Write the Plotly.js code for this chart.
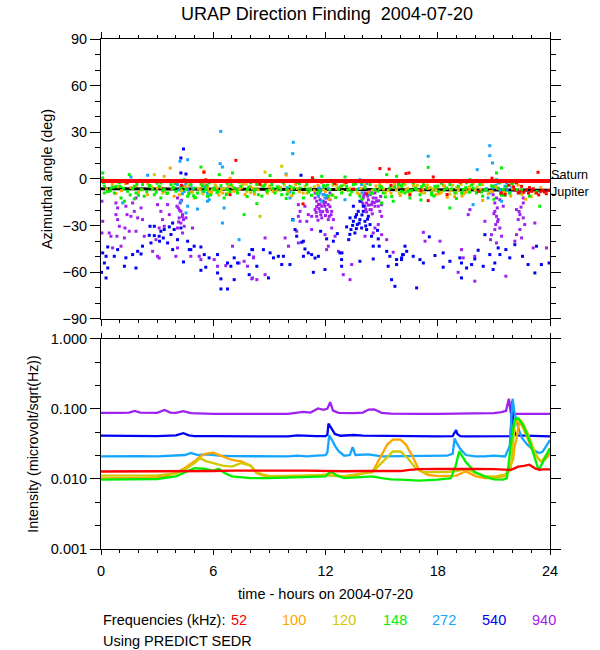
<!DOCTYPE html>
<html>
<head>
<meta charset="utf-8">
<script src="https://cdn.plot.ly/plotly-3.0.1.min.js"></script>
<style>html,body{margin:0;padding:0;background:#fff;}#chart{width:600px;height:650px;}</style>
</head>
<body>
<div id="chart"></div>
<script>
// ---------------- DATA ----------------
var freqLabels = ['52','100','120','148','272','540','940'];
var colors = {'52':'#ff0000','100':'#ffa500','120':'#d2c800','148':'#00f000','272':'#14a5ff','540':'#0000f5','940':'#a020f0'};

// Saturn / Jupiter directions (deg)
var refT = [0, 24];
var saturnAz = [-1.3, -1.3];
var jupiterAz = [-6.2, -7.2];

// Azimuth scatter, 540 kHz
var t540 = [4.41,4.27,4.27,4.54,3.83,3.65,3.91,3.38,3.2,4.27,2.85,2.62,2.58,2.85,3.11,3.33,3.74,4.09,3.56,3.13,2.67,2.22,3.83,4.63,4.72,4.98,5.34,1.96,2.14,1.69,0.89,0.36,0.09,0.27,0.71,1.33,1.87,1.25,0.36,0.18,0.27,4.41,4.8,5.52,5.78,6.23,5.34,5.6,7.12,7.3,7.92,8.1,6.76,6.94,7.92,6.41,6.41,6.76,7.12,6.23,
 10.69,10.25,10.37,10.46,10.73,10.9,11.08,11.26,11.35,10.82,11.62,11.74,12.06,12.42,12.63,12.86,12.88,13.24,13.36,13.31,13.49,13.66,13.84,14.02,14.11,13.7,13.13,13.57,13.93,14.2,14.38,14.29,14.02,13.75,13.84,13.49,14.46,14.78,14.82,14.55,14.87,15.27,15.44,15.35,15.8,16.06,15.53,16.12,14.55,11.44,10.82,8.06,8.68,9.04,9.48,9.22,9.75,8.33,8.95,9.66,10.1,12.77,11.97,12.86,13.84,15.71,15.8,
 16.16,16.34,16.69,17.05,17.23,17.55,18.29,17.85,18.65,19.27,19.18,19.54,19.98,20.16,20.43,20.52,20.78,21.05,21.23,21.32,21.64,21.85,22.12,22.53,22.83,23.28,23.54,23.19,23.95,19.27,18.29,16.87,16.25,16.07,19.81,20.96,0.03,
 13.45,13.6,13.95,14.15,13.8,13.3,14.25,13.65];
var az540 = [19.3,13.5,3.9,3.2,-28.3,-30.8,-32.5,-32.5,-33.6,-31.5,-30.4,-30.4,-36.2,-36.4,-36.8,-37.9,-35.7,-39,-41.1,-40,-41.1,-43.2,-45.4,-40,-45.4,-43.2,-43.7,-46.5,-48.2,-48.6,-45.4,-43.7,-47.5,-49.7,-49.7,-50.7,-57.2,-56.1,-57.2,-54,-63.6,-53.3,-45.4,-48.6,-50.7,-48.6,-58.7,-56.7,-50.7,-54,-48.6,-45.4,-54,-56.1,-61.5,-64.2,-70.7,-70.7,-64.7,-60.4,
 2.4,-26.1,-32.5,-36.8,-40.7,-45,-47.5,-48.6,-60,-49.7,-49.7,-33.6,-38.5,-40,-35.1,-51.8,-47.5,-39,-32.5,-25,-27.2,-22.9,-26.1,-20.8,-27.2,-29.3,-30.8,-34.7,-31.5,-32.5,-29.3,-24,-17.5,-20.8,-14.3,-17.5,-36.8,-33,-38.5,-43.2,-43.2,-46.5,-49.7,-56.1,-55,-51.8,-64.7,-48.6,-51.4,-50.8,-40,-45.4,-45.4,-47.5,-49.7,-50.7,-49.7,-56.1,-63.6,-55,-55,-47.5,-58.2,-56.1,-52.9,-69,-51.8,
 -48.6,-46.5,-49.7,-51.8,-54,-37.2,-47.5,-49.2,-52.9,-54,-50.7,-57.2,-51.4,-45.8,-56.1,-35.8,-48.6,-54,-44.3,-48.6,-45.4,-50.7,-42.2,-49.7,-55,-43.2,-55,-60.4,-54,-63.6,-56.7,-70,-43.2,-50.7,-55,-58.2,-60,
 -29.8,-24.5,-23.1,-30.2,-28.4,-35.6,-25.8,-31.9];

// Azimuth scatter, 940 kHz
var t940 = [0.05,0.09,0.05,0.8,0.89,0.8,0.89,0.98,0.85,1.07,0.53,0.62,1.33,1.39,1.6,1.78,1.69,1.87,1.96,2.22,2.14,1.28,1.51,1.25,1.87,2.31,3.02,3.2,3.29,3.38,3.11,3.56,3.65,2.94,3.02,4.09,4.23,4.13,4.27,4.36,4.18,4.41,4.27,4.45,4.09,4.06,4.31,4.54,4.89,4.36,4.09,4,4.8,5.25,5.34,6.05,6.23,6.67,7.03,7.38,7.65,7.83,8.15,8.1,3.11,2.76,0.44,
 8.77,9.84,8.15,8.06,8.33,8.77,10.55,10.64,10.55,10.64,10.9,11,11.08,11.26,11.26,10.46,10.55,11.44,11.53,11.71,11.88,12.06,12.24,11.62,11.8,11.97,12.15,11.44,11.71,12.06,12.33,11.53,11.8,12.15,12.42,11.44,11.88,12.24,11.62,11.92,11.53,12.24,12.33,11.97,12.51,12.15,12.69,14.11,14.38,14.64,14.02,14.29,14.55,14.73,14.2,14.46,14.11,14.64,14.82,14.38,15,13.93,14.91,14.5,14.25,15,14.82,14.64,14.55,14.11,15,15.27,15.62,13.4,12.95,13.31,10.02,12.06,
 19.72,19.63,20.52,20.96,21.14,21.05,21.18,21.05,21.14,21.23,21.1,21.32,21.05,20.87,20.82,21.14,21.41,21.32,21.5,22.21,22.39,22.3,22.57,22.65,22.39,22.21,22.48,22.12,22.57,22.57,23.19,23.1,23.81,19.27,19.36,19.98,19.09,18.12,17.32,17.23,19.98,21.64,
 11.5,11.65,11.75,11.85,12.0,12.1,12.2,12.3,12.0,12.12,11.7,11.6,14.0,14.15,14.3,14.45,14.6,14.7,14.85,14.95,14.2,14.5,14.35,14.05,4.2,4.35,4.15,21.0,21.2,22.45,22.35];
var az940 = [-14.3,-27.2,-34.7,-15.4,-18.6,-22.9,-26.1,-30.4,-36.8,-43.2,-36.8,-44.3,-17.5,-22.9,-24,-20.8,-15.4,-12.2,-25,-26.1,-18.6,-31.5,-33.6,-37.9,-33.6,-36.8,-16.5,-20.8,-26.1,-30.4,-31.5,-16.5,-22.9,-39,-49.7,-12.2,-15.4,-18.6,-20.8,-22.9,-25,-26.1,-28.3,-30.4,-31.5,-17.5,-13.7,-25,-31.5,-34.7,-44.3,-49.7,-49.7,-49.7,-51.8,-51.8,-56.1,-55.7,-43.2,-54,-52.9,-56.1,-50.1,-63.6,-50.8,-46.5,-34.7,
 -37.9,-37.9,-50.7,-64.2,-64.7,-61.5,-16.5,-20.8,-24,-27.2,-17.5,-27.2,-22.9,-24,-32.5,-33.6,-41.1,-12.2,-14.3,-13.3,-14.3,-12.2,-13.3,-16.5,-17.5,-17.5,-16.5,-19.7,-20.8,-19.7,-20.8,-24,-25,-26.1,-26.1,-9,-10.1,-9,-11,-15.8,-17.8,-17.8,-31.5,-35.8,-36.8,-43.2,-46.5,-9,-10.1,-9,-12.2,-13.3,-12.2,-14.3,-15.4,-16.5,-17.5,-17.5,-17.5,-19.7,-16.5,-14.3,-20.8,-14.8,-11,-24,-29.3,-31.5,-34.7,-36.8,-35.8,-39,-47.1,-55,-61.5,-64.7,-43.2,-45.4,
 -19.7,-22.9,-27.2,-10.1,-12.2,-15.4,-18.6,-20.8,-24,-26.1,-29.3,-31.5,-32.5,-35.8,-39,-41.1,-36.8,-13.3,-17.5,-19.7,-22.9,-26.1,-25,-29.3,-32.5,-35.8,-37.9,-40,-12.2,-15.4,-28.3,-44.3,-44.3,-45.4,-50.7,-49.7,-60,-40,-40,-34.3,-65.7,-62.5,
 -21.5,-19,-23,-21,-23.5,-21,-24,-23,-15,-12,-16.2,-26.5,-15.8,-19.5,-16.8,-19.8,-15.2,-12.3,-14,-11.2,-21.2,-22.4,-8.2,-10.5,-20.1,-24.2,-27.6,-22.3,-27.4,-18.1,-20.9];

// Azimuth scatter, 148 kHz
var t148 = [0.09,0.09,0.18,0.18,0.53,0.8,0.71,1.07,0.98,1.42,1.51,1.78,1.87,2.14,2.22,2.31,2.58,2.76,2.85,3.11,3.2,3.38,3.56,3.74,3.83,4,4.18,4.36,4.54,4.8,4.98,5.16,5.25,5.34,5.43,5.6,5.78,5.87,6.05,6.23,6.41,6.58,6.76,6.94,7.12,7.3,7.47,7.65,7.83,8.01,8.19,7.03,6.32,4.45,5.69,4.63,3.2,1.78,1.25,
 8.06,8.24,8.41,8.68,8.86,9.04,9.13,9.3,9.48,9.66,9.75,9.93,10.1,10.28,10.46,10.64,10.82,11,11.17,11.35,11.53,11.8,11.97,12.24,12.42,12.69,12.86,13.04,13.13,13.31,13.49,13.66,13.84,14.11,14.38,14.64,14.91,15.09,15.27,15.44,15.62,15.8,16.06,16.15,8.33,12.15,15,
 16.07,16.25,16.51,16.69,16.87,17.05,17.23,17.4,17.49,17.67,17.85,18.03,18.2,18.47,18.65,18.65,18.92,19.09,19.36,19.54,19.72,19.89,20.07,20.25,20.52,20.7,20.96,21.14,21.32,21.41,21.5,21.68,21.85,22.03,22.21,23.45,
 0.35,1.2,2.0,2.95,3.95,4.7,5.05,5.5,6.7,7.4,8.6,9.2,9.9,10.6,11.25,11.65,12.1,12.55,13.2,13.95,14.5,15.2,15.9,16.4,17.1,17.8,18.35,19.0,19.7,20.4,21.0,21.6,22.4,22.9,23.3,
 0.14,0.5,1.03,1.56,1.92,2.45,2.99,3.52,3.88,4.59,4.95,5.66,6.2,6.74,7.27,7.81,8.35,8.88,9.42,9.95,10.49,11.02,11.55,11.9,
 12.34,12.87,13.4,13.94,14.47,15.0,15.54,16.07,16.61,17.14,17.67,18.21,18.74,19.28,19.81,20.34,20.88,21.41,21.94,22.48,
 0.65,1.7,2.6,3.3,4.25,5.35,6.05,6.9,7.9,8.75,9.6,10.3,11.1,12.7,13.6,14.8,15.7,16.8,18.0,19.5,20.6,21.25];
var az148 = [3.9,0.7,-4.7,-9,-5.8,-4.7,-9,-12.2,-2.5,-7.9,2.8,-4.7,-9,-6.8,-3.6,-11.1,-4.7,-6.8,-10.1,-4.7,-2.5,-6.8,-9,-3.6,-5.8,-7.9,-1.5,-4.7,-6.8,-3.6,-5.8,-9,-1.5,7.7,-4.7,-6.8,-2.5,-10.1,-5.8,-7.9,-4.3,-12.2,-6.8,-3.6,-5.8,-9,-4.7,-22.9,-6.8,-2.5,-7.9,3.9,2.8,-0.4,-11.1,-11.1,-12.2,-12.8,-14.3,
 -1.5,-6.8,-10.1,-4.7,-7.9,2.2,-3.6,-9,-5.8,-10.1,-2.5,-6.8,-4.7,-9,-1.5,-5.8,-12.2,-3.6,-6.8,-0.4,-9,1.7,-4.7,-6.8,-2.5,-5.8,-9,1.3,-4.7,-10.1,-3.6,-6.8,-11.1,-5.8,-3.6,-6.8,-4.7,-9,2.8,-5.8,-14.3,1.7,-7.9,-2.5,-15.8,-11.1,-15.4,
 -4.7,-9,-12.2,-2.5,-6.8,-10.1,-3.6,-5.8,7.5,-9,-4.7,-7.9,-2.5,-5.8,-3.6,-18.6,-9,-4.7,-6.8,-2.5,-0.4,-5.8,-9,-3.6,-6.8,-1.5,-4.7,3.9,-2.5,7.1,-6.8,-4.7,-9,-2.5,-6.8,-17.5,
 -8,-6,-10.5,-8.5,-3,-9.5,-12,-8,-10,-2,-11,-6,-12.5,-3,-10.5,-7.5,-4,-12,-7,-13,-9,-11.5,-3.5,-8,-13.5,-11,-7,-12.5,-8.5,-11,-13,-10.5,-9,-11,-8,
 -2.4,-7.6,-4.9,-10.2,-3.3,-8.1,-2.7,-9.3,-5.5,-1.9,-10.8,-4.4,-8.7,-2.8,-7.1,-11.3,-3.4,-7.7,-5.1,-9.8,-2.2,-6.5,-9.4,-4.3,
 -10.3,-4.4,-8.2,-2.3,-9.4,-5.6,-11.2,-3.9,-7.5,-4.9,-10.1,-2.6,-6.4,-9.1,-3.8,-8.3,-4.5,-10.4,-2.8,-7.0,
 -5.3,-6.2,-4.1,-7.4,-6.0,-3.2,-6.9,-8.0,-5.2,-3.9,-7.1,-5.7,-8.4,-6.6,-3.1,-7.8,-5.0,-6.1,-4.6,-5.5,-7.3,-5.9];

// Azimuth scatter, 100 kHz
var t100 = [0.3,0.6,1.1,1.6,2.0,2.5,2.49,3.0,3.4,3.91,4.18,4.5,4.98,5.3,5.5,5.9,6.2,6.5,6.8,7.1,7.4,7.7,8.0,8.4,8.8,9.2,9.6,10.0,10.4,10.8,11.2,11.6,12.0,12.4,12.8,13.2,13.5,13.9,14.3,14.7,15.1,15.5,15.9,16.3,16.7,17.1,17.5,17.9,18.3,18.7,19.1,19.5,19.9,20.3,20.7,21.1,21.5,21.9,22.3,22.7,23.2,23.5,3.7,5.5,12.2,20.4,18.5,6.9,9.9,15.3,17.6,19.3,
 0.8,1.9,3.2,4.8,5.7,6.3,7.6,8.2,9.0,10.2,11.4,12.6,13.8,14.9,16.0,17.3,18.1,19.7,20.9,22.0,22.5,23.0,16.5,15.7,18.9];
var az100 = [-6.5,-3.5,-7.5,-5.5,-8.5,-3,-10.1,-6,-8,-11.1,-10.1,-5,-12.2,-7,-3.5,-8.5,-6,-9,-4.5,-8,-6.5,-10,-5,-7,-3,-8,-5.5,-7.5,-3.5,-9,-6,-4,-8,-10.5,-5,-7.5,-3,-6,-8.5,-4.5,-6.5,-9,-5,-7,-3.5,-8,-6,-10,-4,-7,-5.5,-8.5,-3,-6.5,-9.5,-5,-7.5,-11,-4,-13,-9,-5.5,7,5,-13,-13.8,-11.7,0.5,2.5,-2,-1.5,-11,
 -9.3,-4.2,-5.3,-8.4,-6.2,-10.3,-2.8,-9.7,-4.6,-10.7,-7.6,-3.9,-9.7,-2.9,-10.6,-4.3,-9.2,-6.8,-8.1,-6.3,-9.8,-11.2,-8.9,-3.2,-11.4];

// Azimuth scatter, 120 kHz
var t120 = [0.4,0.9,1.3,2.85,3.38,2.2,2.7,3.3,3.8,4.3,4.7,4.9,5.2,5.45,5.7,5.95,6.15,6.35,6.6,6.85,7.05,7.3,7.55,7.8,8.1,8.3,8.5,8.77,9.66,9.0,9.5,10.0,10.5,11.0,11.4,11.9,12.4,12.9,13.3,13.7,14.1,14.5,14.9,15.2,15.5,15.8,16.1,16.4,16.7,17.0,17.3,17.6,17.9,18.2,18.5,18.8,19.1,19.4,19.7,20.0,20.4,20.8,21.2,21.6,22.0,22.4,17.2,18.0,18.65,19.5,16.9,17.7,18.35,19.0,
 5.4,5.8,6.1,6.45,6.7,7.0,7.2,7.5,7.75,8.0,8.25,8.6,8.9,9.15,9.4,9.8,10.2,10.6,10.9,11.2,15.0,15.35,15.65,15.95,16.25,16.55,16.85,17.15,17.45,17.75,18.05,18.35,18.7,19.0,19.25,19.6,14.6,20.1,12.6,13.0];
var az120 = [-8,-5,-3,2.8,1.7,-7,-5,-9,-6,-7.5,-4,-8.5,-6,-9.5,-5,-7,-4.5,-8,-6,-9,-5.5,-7,-4,-8,-6,-3.5,-24,4.5,8.2,-7,-5,-8,-6,-9,-5,-7,-4,-8,-6,-9,-4,-7.5,-6,-9,-5,-7,-8.5,-6,-4.5,-7.5,-9,-5.5,-7,-8.5,-6,-4,-7.5,-9.5,-5,-7,-3.5,-8,-6,-9,-4.5,-7,-6.5,-5,-9.7,-6,-4,-8,-4.5,-9,
 -5.2,-8.3,-3.8,-6.6,-9.4,-4.2,-7.7,-5.6,-3.3,-8.8,-6.1,-4.4,-9.1,-5.9,-7.6,-3.9,-6.4,-8.2,-4.6,-7.1,-4.8,-7.3,-5.4,-9.2,-3.7,-7.9,-5.2,-8.6,-3.9,-6.3,-9.4,-4.7,-7.2,-5.8,-3.4,-8.1,-6.7,-5.2,-6.3,-3.6];

// Azimuth scatter, 272 kHz
var t272 = [4.22,4.63,6.37,6.49,2.49,1.6,4.09,4.27,4.54,4.63,5.52,5.6,5.69,5.78,5.69,5.16,4.54,4.27,6.58,6.49,7.38,1.16,4.63,10.28,10.25,11.8,11.71,11.88,11.62,11.8,11.97,13.84,13.93,10.28,10.1,9.89,13.04,20.78,20.78,20.93,20.11,17.49,20.78,20.96,21.23,21.14,21.32,21.5,21.59,21.68,21.85,21.41,20.69,19.89,6.4,11.75,11.9,12.0,11.65,4.45,4.8,
 4.15,4.35,4.5,4.7,4.9,5.45,5.65,5.75,13.8,13.95,14.1,14.3,14.2,20.6,20.9,21.1,21.35,21.7,21.95,9.95,10.1,12.05,12.15];
var az272 = [11.4,12.4,9.9,7.7,2.4,1.3,-3.6,-5,-2.5,-6.8,-4.7,-6.8,-9,-13.3,-14.3,-19.3,-21.8,-14.3,-18.6,-28.3,-39,-15.4,-17.5,23.6,16.3,-6.8,-9,-4.7,-11.1,-14.3,-12.2,-0.4,-3.6,-26.5,-12.2,3.2,-13.3,21.4,15,10.3,6,14.6,-9,-5.8,-2.5,-0.4,-6.8,-10.1,-4.7,-2.5,-9,-14.3,-12.2,-16.5,30.6,-7.5,-10,-8,-5.5,-8,-4,
 -7.1,-9.5,-4.3,-8.8,-6.1,-8.1,-3.9,-10.8,-6.2,-8.9,-5.1,-9.8,-2.9,-6.2,-8.3,-4.1,-9.4,-7.3,-5.2,-5.6,-8.4,-10.5,-6.2];

// Azimuth scatter, 52 kHz
var t52 = [7.21,14.91,16.3,17.76,22.21,22.48,22.74,23.01,23.28,23.36,23.63,22.3,16.51,17.49,9.5,12.5,4.3,10.8,21.8,22.1,22.9,23.8,23.5,22.6,19.2,20.2,11.8,11.3,5.6,1.4,2.7,8.5,13.5,15.5,18.5,20.9,21.4,17.1,15.4,16.46,5.5,
 22.05,22.4,22.85,23.1,23.4,23.7,23.9,21.6,14.2,6.9,13.1];
var az52 = [12,6.7,3.5,1.3,-2.5,-4.7,-6.8,-7.9,-9,4.3,-7.3,-9,-10.1,-13.9,-1,-3,-4,-16,-4,-7,-5.5,-9.5,-8,-8.5,-2,-8,-2,0.8,-0.5,-2.5,-1.5,-3.5,-6.5,-4,-10,0.5,-9,-7.3,6.4,3.9,4.3,
 -5.1,-8.2,-9.1,-6.2,-10.2,-8.3,-7.5,-9.8,-9.6,-10.1,-2.3];

// Intensity (microvolt/sqrt(Hz))
var ti940 = [0,0.5,1,1.5,1.8,2.1,2.5,3,3.4,3.7,4,4.4,4.8,5.5,6,7,8,9,10,10.4,10.8,11.2,11.6,11.9,12.1,12.25,12.4,12.7,13,13.5,14,14.3,14.6,15,15.5,16,17,18,19,20,20.5,21,21.4,21.65,21.8,21.9,22.1,22.5,23,23.5,24];
var i940  = [0.088,0.087,0.088,0.089,0.094,0.089,0.088,0.088,0.097,0.089,0.088,0.093,0.087,0.085,0.085,0.085,0.085,0.085,0.085,0.088,0.091,0.089,0.102,0.097,0.101,0.125,0.095,0.088,0.087,0.087,0.089,0.098,0.099,0.088,0.086,0.085,0.085,0.085,0.085,0.085,0.086,0.087,0.09,0.094,0.14,0.09,0.085,0.085,0.085,0.085,0.085];

var ti540 = [0,1,2,3,4,4.4,4.7,5,6,7,8,9,10,10.5,11,11.5,12,12.1,12.16,12.37,12.5,12.8,13,13.5,14,15,16,17,18,18.8,18.98,19.05,19.2,19.5,20,21,21.5,21.9,21.97,22.02,22.08,22.2,23,24];
var i540  = [0.0415,0.041,0.0412,0.041,0.042,0.045,0.042,0.041,0.041,0.041,0.0405,0.0405,0.0405,0.042,0.041,0.041,0.041,0.043,0.062,0.05,0.044,0.0415,0.042,0.0425,0.0415,0.041,0.0405,0.0405,0.0405,0.041,0.05,0.044,0.041,0.0405,0.0405,0.0405,0.0405,0.041,0.13,0.075,0.048,0.042,0.041,0.0405];

var ti272 = [0,1,2,3,4,4.5,4.8,5.2,5.6,6,6.3,7,8,9,10,10.5,11,11.5,12,12.1,12.2,12.35,12.5,12.7,13,13.3,13.45,13.6,13.9,14.3,15,16,17,18,18.5,18.8,18.9,19.0,19.2,19.5,20,20.5,21,21.6,21.85,22.0,22.1,22.2,22.33,22.5,22.8,23.1,23.4,23.6,23.78,23.95,24];
var i272  = [0.021,0.0212,0.0212,0.021,0.0215,0.022,0.0235,0.022,0.0225,0.022,0.0215,0.0212,0.021,0.021,0.021,0.0215,0.021,0.0215,0.022,0.024,0.042,0.036,0.03,0.025,0.0215,0.022,0.0285,0.022,0.022,0.0225,0.021,0.021,0.021,0.021,0.0215,0.023,0.038,0.033,0.027,0.022,0.021,0.021,0.0215,0.021,0.03,0.14,0.09,0.07,0.051,0.0386,0.0307,0.0262,0.0235,0.0245,0.029,0.034,0.036];

var ti52 = [0,2,4,5,6,7,8,9,10,11,12,13,14,15,16,16.5,17,18,19,20,21,21.5,21.9,22.1,22.3,22.6,22.9,23.2,23.45,23.6,24];
var i52  = [0.0128,0.0128,0.0129,0.013,0.013,0.0132,0.0133,0.0132,0.0132,0.0132,0.013,0.0129,0.013,0.013,0.013,0.0135,0.0138,0.0139,0.014,0.0139,0.0138,0.0136,0.0135,0.0142,0.015,0.0154,0.016,0.0142,0.0135,0.0137,0.0137];

var ti100 = [0,1,2,3,3.5,4,4.5,5,5.3,5.6,6,6.5,7,7.5,8,8.3,8.7,9,10,11,11.5,12,12.3,12.7,13,13.5,14,14.5,15,15.3,15.6,16,16.3,16.7,17,17.5,18,18.5,19,19.5,20,20.5,21,21.6,21.8,22.03,22.1,22.2,22.35,22.5,22.8,23,23.3,23.5,23.72,23.9,24];
var i100  = [0.0102,0.0102,0.0104,0.0106,0.011,0.0122,0.0145,0.0179,0.021,0.023,0.0237,0.021,0.0187,0.0179,0.0155,0.0122,0.0112,0.011,0.011,0.011,0.0112,0.0115,0.0122,0.0112,0.0104,0.011,0.012,0.0125,0.0222,0.031,0.0365,0.0365,0.031,0.0198,0.0134,0.0114,0.011,0.011,0.0112,0.0129,0.011,0.0103,0.0103,0.011,0.014,0.0188,0.029,0.036,0.065,0.058,0.0385,0.0278,0.021,0.0179,0.0188,0.021,0.0246];

var ti120 = [0,1,2,3,4,4.5,5,5.3,5.6,6,6.5,7,7.5,8,8.3,8.7,9,10,11,12,12.5,13,14,14.5,15,15.3,15.6,16,16.4,16.8,17.2,17.5,18,18.5,19,19.5,19.8,20,20.5,21,21.6,21.9,22.1,22.3,22.5,22.8,23,23.2,23.35,23.55,23.8,24];
var i120  = [0.0112,0.0112,0.0113,0.0113,0.012,0.0138,0.0169,0.0198,0.018,0.0169,0.0155,0.015,0.0169,0.0155,0.0125,0.0115,0.011,0.011,0.0112,0.0114,0.011,0.011,0.012,0.0125,0.017,0.0205,0.0247,0.0247,0.0198,0.0145,0.0125,0.0125,0.0125,0.0125,0.013,0.0138,0.013,0.0122,0.011,0.0108,0.0115,0.0135,0.0566,0.074,0.066,0.0455,0.0329,0.0236,0.0198,0.0177,0.0222,0.026];

var ti148 = [0,1,2,3,4,4.5,5,5.5,6,6.3,6.6,7,7.5,8,9,10,11,12,12.3,12.6,13,14,14.5,15,15.5,16,17,18,18.7,18.95,19.15,19.5,20,20.5,21,21.5,21.7,21.9,22.1,22.3,22.6,22.9,23.1,23.35,23.45,23.7,23.9,24];
var i148  = [0.0098,0.0098,0.0099,0.01,0.0109,0.0126,0.0143,0.014,0.0132,0.014,0.0122,0.0109,0.0105,0.0103,0.0103,0.0105,0.0106,0.0109,0.0129,0.0112,0.0103,0.0106,0.0109,0.0103,0.0099,0.0098,0.0095,0.0098,0.0103,0.0152,0.0248,0.0175,0.0125,0.0109,0.0099,0.0098,0.0103,0.03,0.0705,0.074,0.0566,0.035,0.0235,0.0145,0.0142,0.0188,0.0246,0.0276];

// Axis tick labels
var xTickVals = [0,6,12,18,24];
var azTickVals = [-90,-60,-30,0,30,60,90];
var intTickVals = [0.001,0.01,0.1,1];
var intTickText = ['0.001','0.010','0.100','1.000'];
var intMinorVals = [0.00215,0.00464,0.0215,0.0464,0.215,0.464];

// ---------------- PLOT ----------------
var FONT = 'Liberation Sans, Arial, Helvetica, sans-serif';
var traces = [];
traces.push({x: refT, y: jupiterAz, xaxis:'x', yaxis:'y', mode:'lines', line:{color:'#000000', width:3}, hoverinfo:'skip'});
var scat = [['940',t940,az940],['540',t540,az540],['272',t272,az272],['120',t120,az120],['100',t100,az100],['148',t148,az148],['52',t52,az52]];
scat.forEach(function(s){
  traces.push({x:s[1], y:s[2], xaxis:'x', yaxis:'y', mode:'markers', type:'scatter',
    marker:{symbol:'square', size:3, color:colors[s[0]], line:{width:0}}});
});
traces.push({x: refT, y: saturnAz, xaxis:'x', yaxis:'y', mode:'lines', line:{color:'#ff0000', width:4}});

var lines = [['940',ti940,i940],['540',ti540,i540],['272',ti272,i272],['100',ti100,i100],['120',ti120,i120],['148',ti148,i148],['52',ti52,i52]];
lines.forEach(function(s){
  traces.push({x:s[1], y:s[2], xaxis:'x2', yaxis:'y2', mode:'lines', type:'scatter',
    line:{color:colors[s[0]], width:2.3}});
});

var axBase = {showgrid:false, zeroline:false, showline:true, linecolor:'#000', linewidth:1,
  mirror:'ticks', ticks:'outside', tickcolor:'#000', tickwidth:1,
  tickfont:{family:FONT, size:14.5, color:'#000'}};

function ext(o, e){ var r = {}; for (var k in o) r[k]=o[k]; for (var k2 in e) r[k2]=e[k2]; return r; }

var legendX = [0.3076,0.43,0.5405,0.6537,0.7636,0.8761,0.9873];
var annotations = [
  {text:'Saturn', xref:'paper', yref:'y', x:1, y:2.6, xanchor:'left', yanchor:'middle', xshift:0, borderpad:0, showarrow:false, font:{family:FONT, size:12.6, color:'#000'}},
  {text:'Jupiter', xref:'paper', yref:'y', x:1, y:-8.4, xanchor:'left', yanchor:'middle', xshift:0, borderpad:0, showarrow:false, font:{family:FONT, size:12.6, color:'#000'}},
  {text:'Frequencies (kHz):', xref:'paper', yref:'paper', x:0, y:-0.1386, xanchor:'left', yanchor:'middle', showarrow:false, font:{family:FONT, size:14.5, color:'#000'}},
  {text:'Using PREDICT SEDR', xref:'paper', yref:'paper', x:0, y:-0.1798, xanchor:'left', yanchor:'middle', showarrow:false, font:{family:FONT, size:14.5, color:'#000'}}
];
freqLabels.forEach(function(f, i){
  annotations.push({text:f, xref:'paper', yref:'paper', x:legendX[i], y:-0.1386, xanchor:'center', yanchor:'middle', showarrow:false, font:{family:FONT, size:14.5, color:colors[f]}});
});

var layout = {
  width:600, height:650,
  paper_bgcolor:'#fff', plot_bgcolor:'#fff',
  showlegend:false,
  margin:{l:100.7, r:49.7, t:39.3, b:100.7, pad:0},
  font:{family:FONT, color:'#000'},
  title:{text:'URAP Direction Finding  2004-07-20', font:{family:FONT, size:18, color:'#000'}, x:0.545, xref:'container', xanchor:'center', y:1-14/650, yref:'container', yanchor:'middle'},
  xaxis: ext(axBase, {domain:[0,1], anchor:'y', range:[0,24], tickvals:xTickVals, showticklabels:false, ticklen:6,
    minor:{dtick:1, tick0:0, ticklen:3, ticks:'outside', tickcolor:'#000', showgrid:false}}),
  yaxis: ext(axBase, {domain:[0.451,1], anchor:'x', range:[-90,90], tickvals:azTickVals, ticklen:10,
    minor:{dtick:10, tick0:0, ticklen:5, ticks:'outside', tickcolor:'#000', showgrid:false},
    title:{text:'Azimuthal angle (deg)', font:{family:FONT, size:14.4, color:'#000'}, standoff:6}}),
  xaxis2: ext(axBase, {domain:[0,1], anchor:'y2', range:[0,24], tickvals:xTickVals, ticklen:5, ticklabelstandoff:4,
    minor:{dtick:1, tick0:0, ticklen:3, ticks:'outside', tickcolor:'#000', showgrid:false},
    title:{text:'time - hours on 2004-07-20', font:{family:FONT, size:14.5, color:'#000'}, standoff:10}}),
  yaxis2: ext(axBase, {domain:[0,0.4118], anchor:'x2', type:'log', range:[-3,0], tickvals:intTickVals, ticktext:intTickText, ticklen:10,
    minor:{tickmode:'array', tickvals:intMinorVals, ticklen:5, ticks:'outside', tickcolor:'#000', showgrid:false},
    title:{text:'Intensity (microvolt/sqrt(Hz))', font:{family:FONT, size:14.2, color:'#000'}, standoff:8}}),
  annotations: annotations
};

Plotly.newPlot('chart', traces, layout, {staticPlot:true, displayModeBar:false});
</script>
</body>
</html>
